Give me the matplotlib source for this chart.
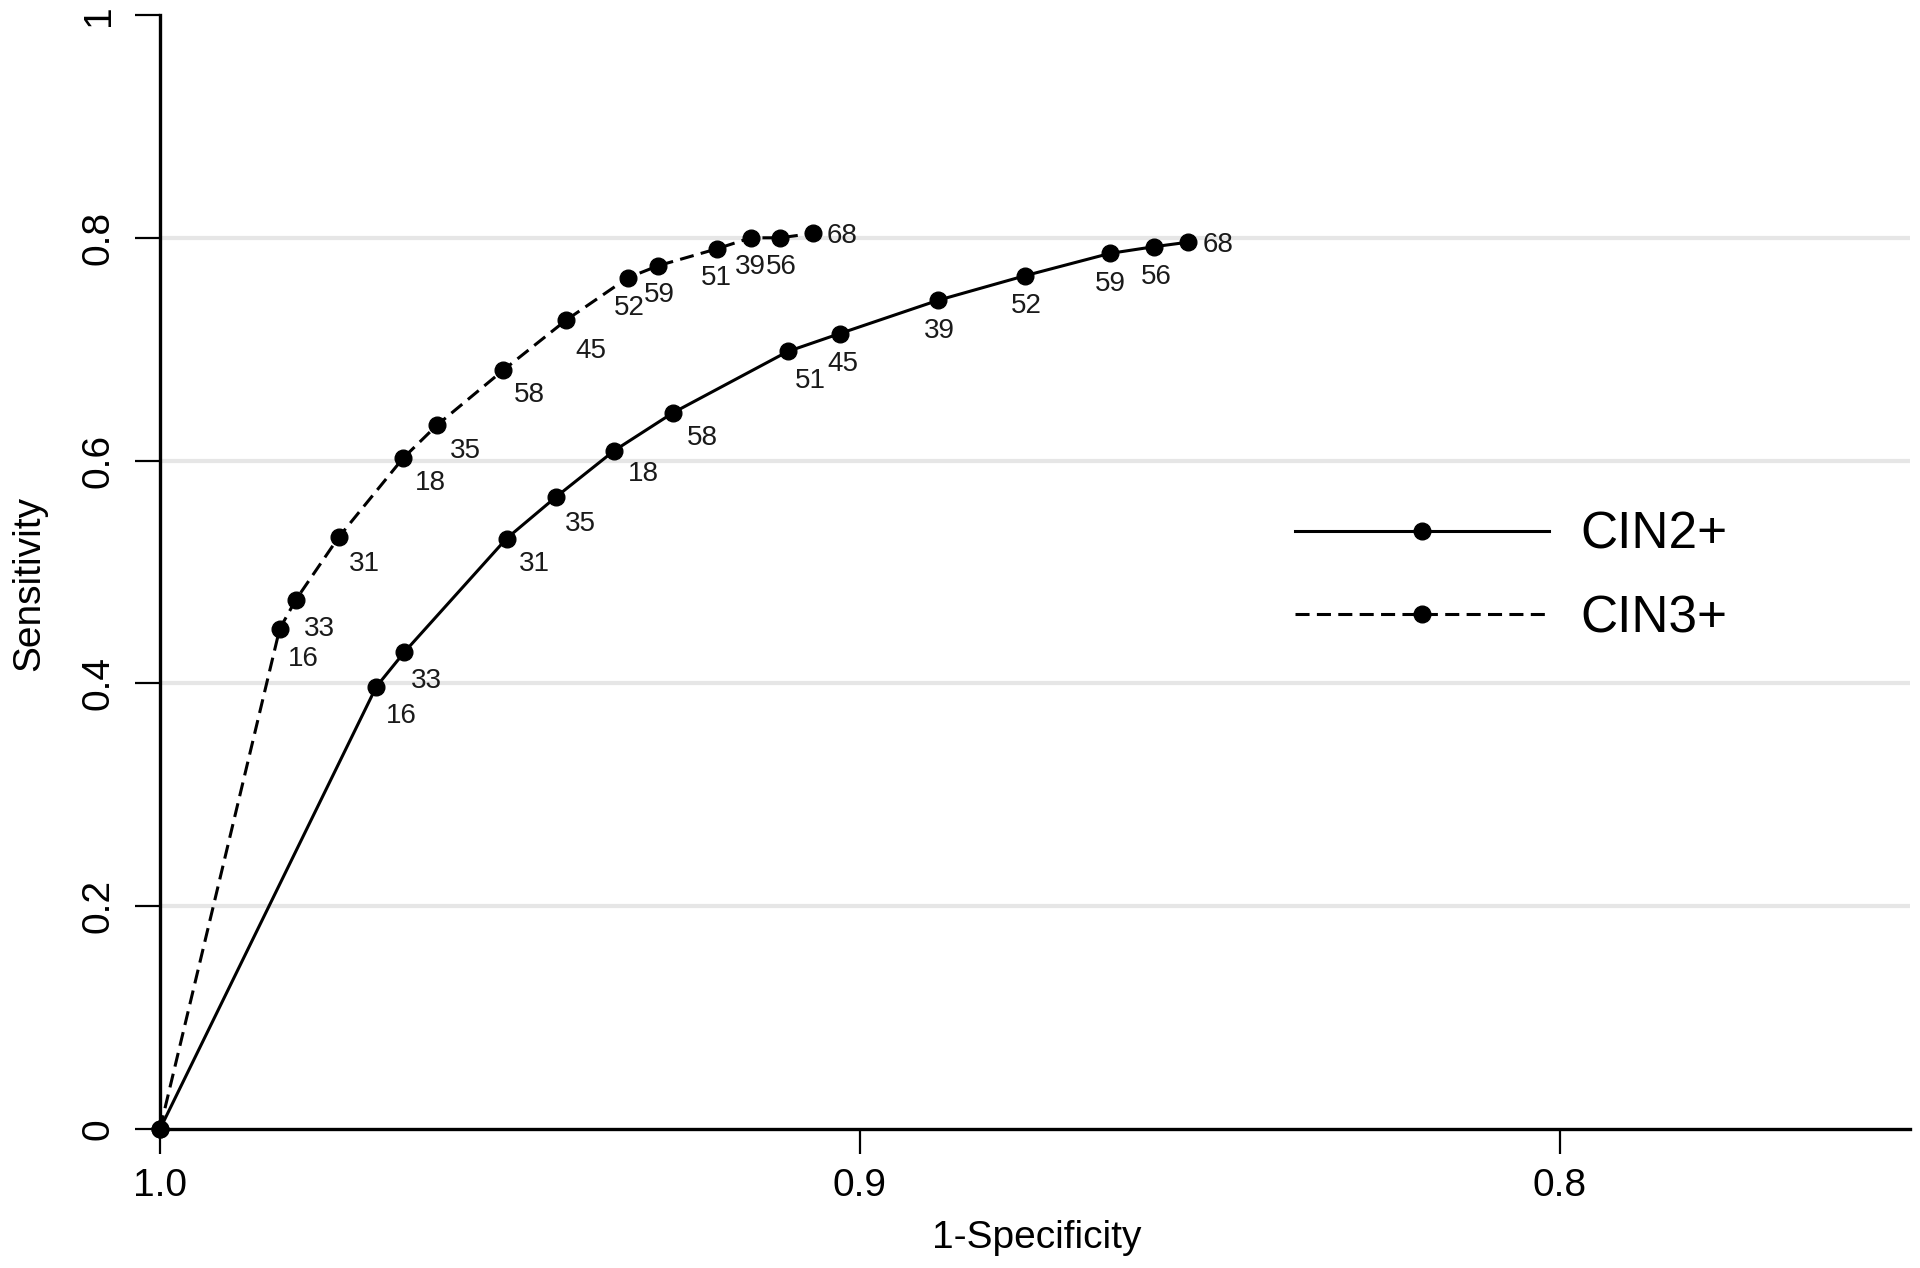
import matplotlib
matplotlib.use("Agg")
import matplotlib.pyplot as plt

## ROC-type curves, HPV type cut-offs
# x axis is reversed (1 -> 0.75)
cin2_x = [1.0, 0.9691, 0.9651, 0.9505, 0.9435, 0.9351, 0.9267, 0.9103, 0.9029,
          0.8888, 0.8764, 0.8643, 0.8580, 0.8532]
cin2_y = [0.0, 0.397, 0.428, 0.530, 0.567, 0.609, 0.643, 0.698, 0.714,
          0.744, 0.766, 0.786, 0.792, 0.796]
cin2_lab = ["", "16", "33", "31", "35", "18", "58", "51", "45",
            "39", "52", "59", "56", "68"]

cin3_x = [1.0, 0.9829, 0.9806, 0.9745, 0.9653, 0.9604, 0.9510, 0.9420, 0.9332,
          0.9288, 0.9205, 0.9156, 0.9114, 0.9067]
cin3_y = [0.0, 0.449, 0.475, 0.531, 0.602, 0.632, 0.681, 0.726, 0.764,
          0.775, 0.790, 0.800, 0.800, 0.804]
cin3_lab = ["", "16", "33", "31", "18", "35", "58", "45", "52",
            "59", "51", "39", "56", "68"]

y_ticks = [0, 0.2, 0.4, 0.6, 0.8, 1]
y_ticklabels = ["0", "0.2", "0.4", "0.6", "0.8", "1"]
x_ticks = [1.0, 0.9, 0.8]
x_ticklabels = ["1.0", "0.9", "0.8"]

# label offsets (points) for the number next to each dot
cin2_off = [(0, 0), (18, -21), (16, -21), (20, -18), (18, -19), (21, -17), (21, -18),
            (16, -21), (2, -22), (1, -22), (1, -22), (0, -22), (2, -22), (22, -2)]
cin3_off = [(0, 0), (17, -22), (17, -21), (19, -19), (20, -18), (20, -19), (19, -18),
            (18, -22), (1, -22), (1, -21), (0, -21), (0, -21), (1, -21), (21, -2)]

font = ["Liberation Sans", "DejaVu Sans"]
dash = (0, (4.6, 2.4))

fig = plt.figure(figsize=(19.2, 12.68), dpi=100)
ax = fig.add_axes([160 / 1920, 1 - 1129 / 1268, 1750 / 1920, 1114 / 1268])

l1, = ax.plot(cin2_x, cin2_y, "-", color="black", lw=2.2, marker="o", ms=12,
              clip_on=False, zorder=3, label="CIN2+")
l2, = ax.plot(cin3_x, cin3_y, color="black", lw=2.2, ls=dash, marker="o",
              ms=12, clip_on=False, zorder=3, label="CIN3+")

for xs, ys, labs, offs in [(cin2_x, cin2_y, cin2_lab, cin2_off),
                           (cin3_x, cin3_y, cin3_lab, cin3_off)]:
    for x, y, t, o in zip(xs, ys, labs, offs):
        if t:
            ax.annotate(t, (x, y), xytext=o, textcoords="offset points",
                        ha="center", va="center", fontsize=20,
                        family=font, color="#1a1a1a")

ax.set_xlim(1.0, 0.75)
ax.set_ylim(0, 1)

ax.set_yticks(y_ticks)
ax.set_yticklabels(y_ticklabels, rotation=90, va="center", family=font, fontsize=28)
ax.set_xticks(x_ticks)
ax.set_xticklabels(x_ticklabels, family=font, fontsize=28)
ax.tick_params(axis="both", length=18, width=1.6, color="black")
ax.tick_params(axis="y", pad=13)
ax.tick_params(axis="x", pad=10)

ax.yaxis.grid(True, color="#e6e6e6", lw=3)
ax.set_axisbelow(True)
gl = ax.yaxis.get_gridlines()
gl[0].set_visible(False)
gl[-1].set_visible(False)

for s in ["top", "right"]:
    ax.spines[s].set_visible(False)
for s in ["left", "bottom"]:
    ax.spines[s].set_linewidth(2.4)

fig.text(1037 / 1920, 1 - 1248 / 1268, "1-Specificity", ha="center", va="baseline",
         family=font, fontsize=28)
fig.text(29 / 1920, 1 - 583 / 1268, "Sensitivity", rotation=90, ha="center",
         va="center", family=font, fontsize=28)

leg = ax.legend(handles=[l1, l2], loc="center left",
                bbox_to_anchor=(1295 / 1920, 1 - 577 / 1268),
                bbox_transform=fig.transFigure, frameon=False,
                handlelength=4.95, handletextpad=0.6, labelspacing=0.67,
                borderpad=0, borderaxespad=0,
                prop={"family": font, "size": 37})

fig.savefig("out.png", dpi=100)
